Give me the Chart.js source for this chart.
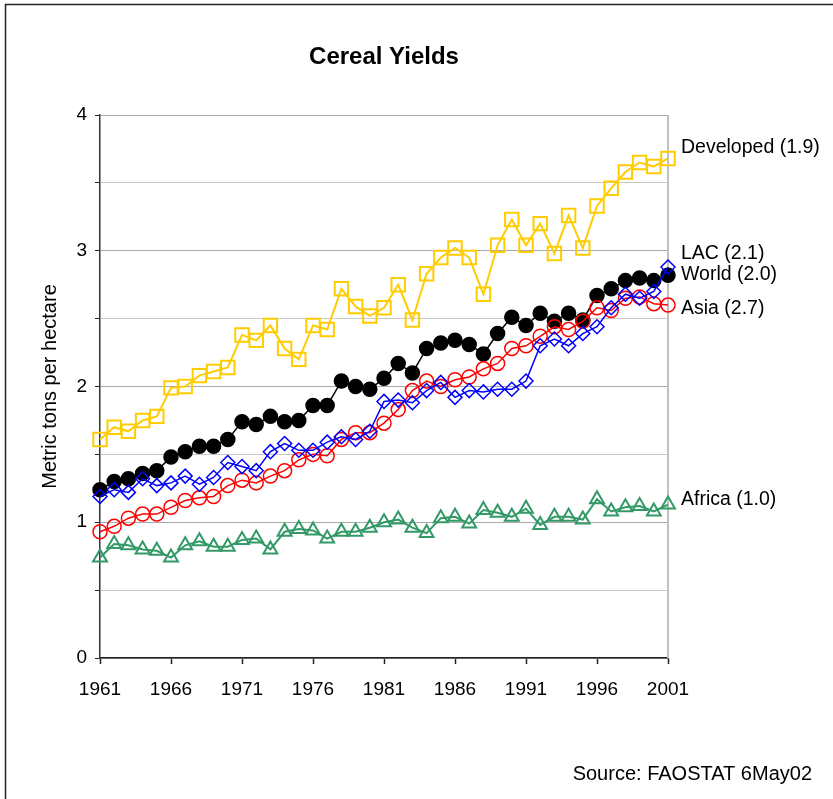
<!DOCTYPE html>
<html>
<head>
<meta charset="utf-8">
<title>Cereal Yields</title>
<script src="https://cdn.jsdelivr.net/npm/chart.js@4.4.1/dist/chart.umd.min.js"></script>
<style>
  html, body { margin: 0; padding: 0; background: #fff; overflow: hidden; }
  #wrap { position: relative; width: 833px; height: 799px; }
</style>
</head>
<body>
<div id="wrap"><canvas id="chart" width="833" height="799"></canvas></div>
<script>
// years on the x axis, and the years that get a tick label
const years = [1961, 1962, 1963, 1964, 1965, 1966, 1967, 1968, 1969, 1970,
  1971, 1972, 1973, 1974, 1975, 1976, 1977, 1978, 1979, 1980,
  1981, 1982, 1983, 1984, 1985, 1986, 1987, 1988, 1989, 1990,
  1991, 1992, 1993, 1994, 1995, 1996, 1997, 1998, 1999, 2000, 2001];
const tickYears = [1961, 1966, 1971, 1976, 1981, 1986, 1991, 1996, 2001];

// metric tons per hectare
const developed = [1.61, 1.70, 1.67, 1.75, 1.78, 1.99, 2.00, 2.08, 2.11, 2.14,
  2.38, 2.34, 2.45, 2.28, 2.20, 2.45, 2.42, 2.72, 2.59, 2.52,
  2.58, 2.75, 2.49, 2.83, 2.95, 3.02, 2.95, 2.68, 3.04, 3.23,
  3.04, 3.20, 2.98, 3.26, 3.02, 3.33, 3.46, 3.58, 3.65, 3.62, 3.68];
const world = [1.24, 1.30, 1.32, 1.36, 1.38, 1.48, 1.52, 1.56, 1.56, 1.61,
  1.74, 1.72, 1.78, 1.74, 1.75, 1.86, 1.86, 2.04, 2.00, 1.98,
  2.06, 2.17, 2.10, 2.28, 2.32, 2.34, 2.31, 2.24, 2.39, 2.51,
  2.45, 2.54, 2.48, 2.54, 2.49, 2.67, 2.72, 2.78, 2.80, 2.78, 2.82];
const asia = [0.93, 0.97, 1.03, 1.06, 1.06, 1.11, 1.16, 1.18, 1.19, 1.27,
  1.31, 1.29, 1.34, 1.38, 1.46, 1.50, 1.49, 1.61, 1.66, 1.66,
  1.73, 1.83, 1.97, 2.04, 2.00, 2.05, 2.07, 2.13, 2.17, 2.28,
  2.30, 2.37, 2.44, 2.42, 2.48, 2.58, 2.56, 2.65, 2.66, 2.61, 2.60];
const lac = [1.19, 1.24, 1.22, 1.32, 1.27, 1.29, 1.34, 1.28, 1.33, 1.44,
  1.41, 1.38, 1.52, 1.58, 1.53, 1.53, 1.59, 1.63, 1.61, 1.67,
  1.89, 1.90, 1.88, 1.97, 2.03, 1.92, 1.97, 1.96, 1.98, 1.98,
  2.04, 2.30, 2.35, 2.30, 2.39, 2.44, 2.58, 2.68, 2.65, 2.70, 2.88];
const africa = [0.74, 0.84, 0.83, 0.80, 0.79, 0.74, 0.83, 0.86, 0.82, 0.82,
  0.87, 0.88, 0.80, 0.93, 0.95, 0.94, 0.88, 0.93, 0.93, 0.96,
  1.00, 1.02, 0.96, 0.92, 1.03, 1.04, 0.99, 1.09, 1.07, 1.04,
  1.10, 0.98, 1.04, 1.04, 1.02, 1.17, 1.08, 1.11, 1.12, 1.08, 1.13];

const FONT = "'Liberation Sans', Arial, Helvetica, sans-serif";

function series(label, values, color, style, radius, fill, width, order) {
  return {
    label: label,
    data: years.map((yr, i) => ({ x: yr, y: values[i] })),
    borderColor: color,
    backgroundColor: fill,
    borderWidth: width,
    pointStyle: style,
    pointRadius: radius,
    pointBorderColor: color,
    pointBackgroundColor: fill,
    pointBorderWidth: width,
    tension: 0,
    clip: false,
    order: order
  };
}

const datasets = [
  series("Developed (1.9)", developed, "#FFCC00", "rect", 9.5, "transparent", 2, 4),
  series("LAC (2.1)", lac, "#0000FF", "rectRot", 7, "transparent", 1.5, 2),
  series("World (2.0)", world, "#000000", "circle", 7, "#000000", 1.5, 5),
  series("Asia (2.7)", asia, "#FF0000", "circle", 7, "transparent", 1.5, 3),
  series("Africa (1.0)", africa, "#339966", "triangle", 8, "transparent", 2, 1)
];

// pixel nudges for the end labels, relative to each series' last point
const labelNudge = [-11, -13, -1, 4, -5];

const framePlugin = {
  id: "frame",
  beforeDraw(chart) {
    const c = chart.ctx;
    c.save();
    c.fillStyle = "#fff";
    c.fillRect(0, 0, chart.width, chart.height);
    c.strokeStyle = "#222";
    c.lineWidth = 1.5;
    c.beginPath();
    c.moveTo(5.5, chart.height + 5);
    c.lineTo(5.5, 4.5);
    c.lineTo(chart.width + 5, 4.5);
    c.stroke();
    c.restore();
  },
  beforeDatasetsDraw(chart) {
    const a = chart.chartArea;
    const c = chart.ctx;
    c.save();
    c.strokeStyle = "#c0c0c0";
    c.lineWidth = 2;
    c.beginPath();
    c.moveTo(a.right, a.top);
    c.lineTo(a.right, a.bottom);
    c.stroke();
    c.restore();
  }
};

const labelsPlugin = {
  id: "endLabels",
  afterDatasetsDraw(chart) {
    const c = chart.ctx;
    const y = chart.scales.y;
    const a = chart.chartArea;
    c.save();
    c.fillStyle = "#000";
    c.font = "19.5px " + FONT;
    c.textAlign = "left";
    c.textBaseline = "middle";
    chart.data.datasets.forEach((ds, i) => {
      const last = ds.data[ds.data.length - 1].y;
      c.fillText(ds.label, a.right + 13, y.getPixelForValue(last) + labelNudge[i]);
    });
    c.font = "20px " + FONT;
    c.textAlign = "right";
    c.fillText("Source: FAOSTAT 6May02", 812, 774);
    c.restore();
  }
};

new Chart(document.getElementById("chart"), {
  type: "line",
  data: { datasets: datasets },
  options: {
    responsive: false,
    animation: false,
    layout: { padding: { left: 0, right: 165, top: 0, bottom: 91 } },
    plugins: {
      legend: { display: false },
      tooltip: { enabled: false },
      title: {
        display: true,
        text: "Cereal Yields",
        fullSize: false,
        color: "#000",
        font: { family: FONT, size: 24, weight: "bold" },
        padding: { top: 43, bottom: 43.2 }
      }
    },
    scales: {
      x: {
        type: "linear",
        min: 1961,
        max: 2001,
        afterBuildTicks: s => { s.ticks = tickYears.map(v => ({ value: v })); },
        afterFit: s => { s.height = 50; },
        grid: { drawOnChartArea: false, tickLength: 6, tickColor: "#222", tickWidth: 1.5 },
        border: { color: "#222", width: 1.5 },
        ticks: {
          color: "#000",
          font: { family: FONT, size: 19 },
          padding: 14,
          maxRotation: 0,
          autoSkip: false,
          callback: v => String(v)
        }
      },
      y: {
        min: 0,
        max: 4,
        afterFit: s => { s.width = 100; },
        grid: {
          color: c => (c.tick && Number.isInteger(c.tick.value)) ? "#a8a8a8" : "#c8c8c8",
          tickLength: 5,
          tickColor: "#222"
        },
        border: { color: "#333", width: 1.5 },
        ticks: {
          stepSize: 0.5,
          color: "#000",
          font: { family: FONT, size: 19 },
          padding: 8,
          callback: v => Number.isInteger(v) ? String(v) : ""
        },
        title: {
          display: true,
          text: "Metric tons per hectare",
          color: "#000",
          font: { family: FONT, size: 20 },
          padding: { top: 38, bottom: 0 }
        }
      }
    }
  },
  plugins: [framePlugin, labelsPlugin]
});
</script>
</body>
</html>
